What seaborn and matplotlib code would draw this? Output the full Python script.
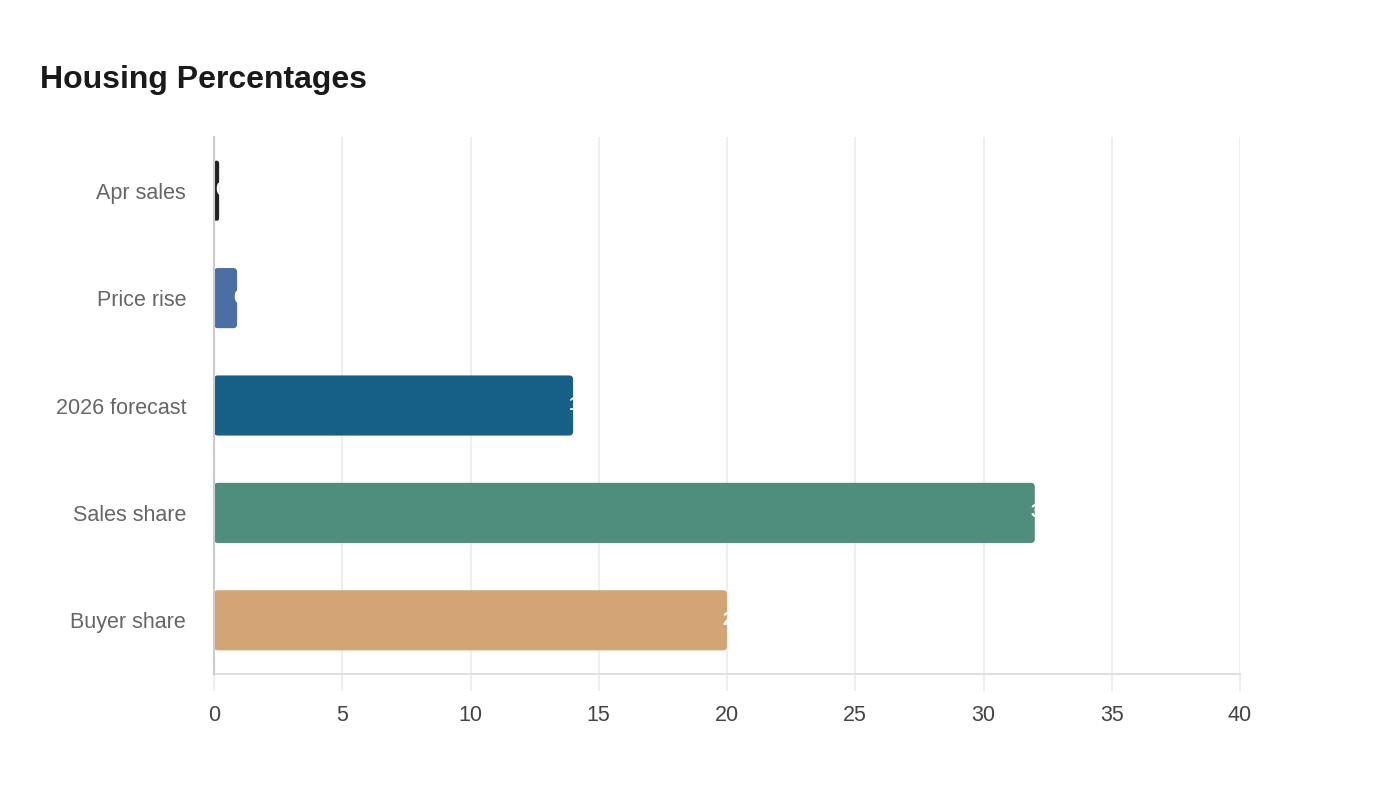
import matplotlib
matplotlib.use("Agg")
import matplotlib.pyplot as plt
from matplotlib.patches import FancyBboxPatch
import pandas as pd
import seaborn as sns

# chart data
categories = ["Apr sales", "Price rise", "2026 forecast", "Sales share", "Buyer share"]
values = [0.2, 0.9, 14, 32, 20]
value_labels = ["0.2", "0.9", "14", "32", "20"]
bar_colors = ["#222222", "#4a6fa5", "#166088", "#4f8d7c", "#d4a574"]
xticks = [0, 5, 10, 15, 20, 25, 30, 35, 40]

sns.set_theme(style="white")
plt.rcParams['font.family'] = ['Liberation Sans', 'DejaVu Sans']

W, H = 1400, 800
fig = plt.figure(figsize=(W / 100, H / 100), dpi=100)
fig.patch.set_facecolor("white")
left, right, top, bottom = 214, 1240, 137, 674
ax = fig.add_axes([left / W, 1 - bottom / H, (right - left) / W, (bottom - top) / H])

df = pd.DataFrame({"category": categories, "value": values})
sns.barplot(data=df, x="value", y="category", hue="category", palette=bar_colors,
            orient="h", width=0.56, saturation=1, legend=False, ax=ax)

ax.set_xlim(0, 40)
ax.set_ylim(len(categories) - 0.5, -0.5)
ax.set_xticks(xticks)
ax.set_xlabel("")
ax.set_ylabel("")

# rounded bars
px_x = (right - left) / 40.
px_y = (bottom - top) / len(categories)
r_px = 4.
aspect = px_x / px_y
bars = []
for p in list(ax.patches):
    x0, y0 = p.get_x(), p.get_y()
    w, h = p.get_width(), p.get_height()
    fc = p.get_facecolor()
    p.remove()
    r = min(r_px / px_x, w / 2.)
    fb = FancyBboxPatch((x0, y0), w, h,
                        boxstyle="round,pad=0,rounding_size=%f" % r,
                        mutation_aspect=aspect, fc=fc, ec="none", zorder=2)
    ax.add_patch(fb)
    bars.append((y0 + h / 2., fb))
bars.sort(key=lambda b: b[0])

# value labels, white, clipped to the bar
for i, (yc, fb) in enumerate(bars):
    t = ax.annotate(value_labels[i], xy=(values[i], yc), xytext=(-3, 0),
                    textcoords="offset points", ha="left", va="center",
                    color="white", fontsize=13, fontweight="bold", zorder=3)
    t.set_clip_path(fb)

ax.set_axisbelow(True)
ax.grid(axis="x", color="#eeeeee", linewidth=1.5)
ax.grid(axis="y", visible=False)
for s in ["top", "right"]:
    ax.spines[s].set_visible(False)
ax.spines["left"].set_color("#cccccc")
ax.spines["left"].set_linewidth(1.5)
ax.spines["left"].set_zorder(4)
ax.spines["bottom"].set_color("#e0e0e0")
ax.spines["bottom"].set_linewidth(1.5)

ax.tick_params(axis="x", length=12, width=1.5, color="#eeeeee", pad=10,
               labelsize=15.5, labelcolor="#444444", bottom=True)
ax.tick_params(axis="y", length=0, pad=20, labelsize=15.5, labelcolor="#666666")

fig.text(40 / W, 1 - 80 / H, "Housing Percentages", fontsize=23, fontweight="bold",
         color="#1a1a1a", ha="left", va="center")

fig.savefig("out.png", dpi=100, facecolor="white")
